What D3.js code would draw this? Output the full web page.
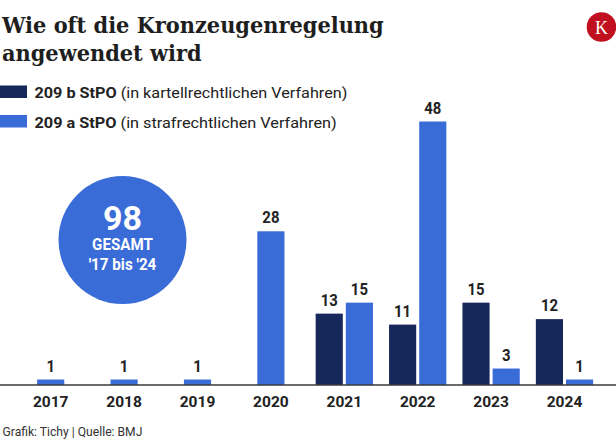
<!DOCTYPE html>
<html>
<head>
<meta charset="utf-8">
<script src="https://cdn.jsdelivr.net/npm/d3@7"></script>
<style>
  html, body { margin: 0; padding: 0; background: #fff; }
  svg { display: block; }
</style>
</head>
<body>
<svg id="chart" width="616" height="448"></svg>
<script>
// ---- data ----
const titleLines = ["Wie oft die Kronzeugenregelung", "angewendet wird"];
const years = ["2017", "2018", "2019", "2020", "2021", "2022", "2023", "2024"];
const seriesKeys = ["b", "a"];
const seriesBold = ["209 b StPO", "209 a StPO"];
const seriesRest = [" (in kartellrechtlichen Verfahren)", " (in strafrechtlichen Verfahren)"];
const valuesB = [0, 0, 0, 0, 13, 11, 15, 12];   // 209 b StPO
const valuesA = [1, 1, 1, 28, 15, 48, 3, 1];    // 209 a StPO
const totalValue = "98";
const totalLines = ["GESAMT", "'17 bis '24"];
const footerText = "Grafik: Tichy | Quelle: BMJ";
const logoLetter = "K";

// ---- styles ----
const colors = { b: "#16285a", a: "#3a6cd8" };
const textColor = "#222222";
const sans = "Roboto, 'Noto Sans', sans-serif";
const serif = "'DejaVu Serif', 'Liberation Serif', serif";

const svg = d3.select("#chart");

// helper: place text in a group, horizontally scaled to a target width
function fitText(x, y, target, build, anchor) {
  const g = svg.append("g");
  const t = g.append("text").attr("text-anchor", anchor || "start");
  build(t);
  const w = t.node().getComputedTextLength();
  const s = target ? target / w : 1;
  g.attr("transform", `translate(${x},${y}) scale(${s},1)`);
  return s;
}
function condText(x, y, str, size, weight, fill, anchor, sx) {
  svg.append("g")
    .attr("transform", `translate(${x},${y}) scale(${sx},1)`)
    .append("text")
    .attr("text-anchor", anchor)
    .attr("font-family", sans)
    .attr("font-size", size)
    .attr("font-weight", weight)
    .attr("fill", fill)
    .text(str);
}

// ---- title ----
const ts = fitText(2, 33, 382, t => t
  .attr("font-family", serif).attr("font-weight", "bold").attr("font-size", 23)
  .attr("fill", "#1e1e1e").text(titleLines[0]));
svg.append("g").attr("transform", `translate(2,61) scale(${ts},1)`)
  .append("text").attr("font-family", serif).attr("font-weight", "bold")
  .attr("font-size", 23).attr("fill", "#1e1e1e").text(titleLines[1]);

// ---- logo ----
svg.append("circle").attr("cx", 601.5).attr("cy", 27).attr("r", 14.8).attr("fill", "#c0101f");
svg.append("text").attr("x", 601.5).attr("y", 33.5).attr("text-anchor", "middle")
  .attr("font-family", "'Liberation Serif', serif").attr("font-size", 18)
  .attr("fill", "#fff").text(logoLetter);

// ---- legend ----
const legendY = [98, 127.5];
const legendW = [313, 302.5];
seriesKeys.forEach((k, i) => {
  svg.append("rect").attr("x", 0).attr("y", legendY[i] - 12.5)
    .attr("width", 27).attr("height", 12.5).attr("fill", colors[k]);
  fitText(34.5, legendY[i], legendW[i], t => {
    t.attr("font-family", sans).attr("font-size", 15).attr("fill", textColor);
    t.append("tspan").attr("font-weight", "bold").text(seriesBold[i]);
    t.append("tspan").text(seriesRest[i]);
  });
});

// ---- scales ----
const baseY = 385;
const x = d3.scaleBand().domain(years).range([14, 601.2]).paddingInner(0.2193).paddingOuter(0.2193 / 2);
const xs = d3.scaleBand().domain(seriesKeys).range([0, x.bandwidth()]).paddingInner(0.1);
const y = d3.scaleLinear().domain([0, 48]).range([baseY, 121.5]);

const data = years.map((yr, i) => ({ year: yr, b: valuesB[i], a: valuesA[i] }));

const bars = [];
data.forEach(d => {
  const present = seriesKeys.filter(k => d[k] > 0);
  present.forEach(k => {
    let bx;
    if (present.length === 1) bx = x(d.year) + (x.bandwidth() - xs.bandwidth()) / 2;
    else bx = x(d.year) + xs(k);
    bars.push({ key: k, value: d[k], x: bx, year: d.year });
  });
});

svg.append("g").selectAll("rect").data(bars).join("rect")
  .attr("x", d => d.x)
  .attr("y", d => y(d.value))
  .attr("width", xs.bandwidth())
  .attr("height", d => baseY - y(d.value))
  .attr("fill", d => colors[d.key]);

bars.forEach(d => {
  condText(d.x + xs.bandwidth() / 2, y(d.value) - 8, String(d.value), 16, "bold", textColor, "middle", 0.93);
});

// baseline
svg.append("line").attr("x1", 0).attr("x2", 616).attr("y1", baseY).attr("y2", baseY)
  .attr("stroke", "#3a3a3a").attr("stroke-width", 1.3);

// x axis labels
const xAxis = d3.axisBottom(x).tickSize(0).tickPadding(0);
const axisG = svg.append("g").attr("transform", `translate(0,${baseY})`).call(xAxis);
axisG.select(".domain").remove();
axisG.selectAll(".tick text")
  .attr("y", 22)
  .attr("dy", 0)
  .attr("font-family", sans)
  .attr("font-size", 15.5)
  .attr("font-weight", "bold")
  .attr("fill", textColor);

// ---- total bubble ----
const cx = 122.5, cy = 240;
svg.append("circle").attr("cx", cx).attr("cy", cy).attr("r", 64).attr("fill", colors.a);
condText(cx, 230, totalValue, 34, "bold", "#fff", "middle", 1);
condText(cx, 250, totalLines[0], 16, "bold", "#fff", "middle", 0.95);
condText(cx, 269.5, totalLines[1], 16, "bold", "#fff", "middle", 0.95);

// ---- footer ----
fitText(2.5, 436, 140, t => t
  .attr("font-family", sans).attr("font-size", 12).attr("fill", "#333").text(footerText));
</script>
</body>
</html>
